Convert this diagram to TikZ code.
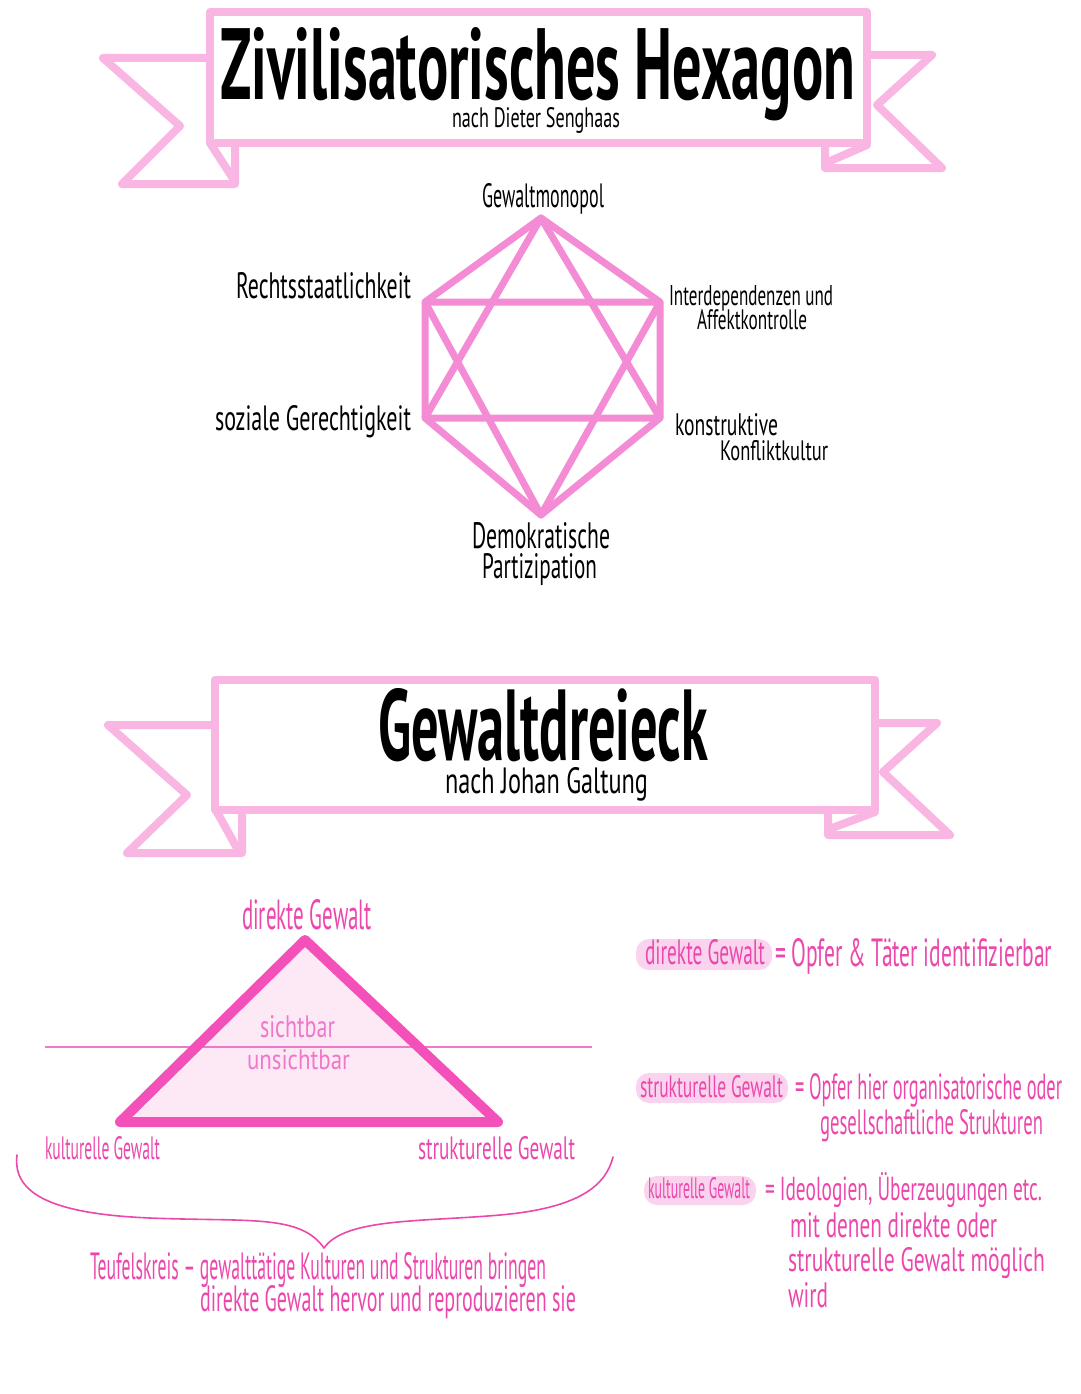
\documentclass[tikz,border=0pt]{standalone}
\usepackage{fontspec}
\usepackage{graphicx}
\setmainfont{PT Sans}
\definecolor{ribbon}{RGB}{249,182,226}
\definecolor{hexpink}{RGB}{243,140,212}
\definecolor{tripink}{RGB}{244,80,185}
\definecolor{trifill}{RGB}{253,232,246}
\definecolor{penpink}{RGB}{236,72,172}
\definecolor{softpink}{RGB}{240,120,200}
\definecolor{hilite}{RGB}{250,212,238}
\newcommand\ft[3]{\resizebox{#1pt}{#2pt}{#3}}
\newcommand\nodepth[1]{\raisebox{0pt}[\height][0pt]{#1}}
\tikzset{
  txt/.style={inner sep=0pt, outer sep=0pt, anchor=base west},
  ribbonline/.style={draw=ribbon, line width=8pt, line join=round, line cap=round},
  hexline/.style={draw=hexpink, line width=7pt, line join=round, line cap=round},
  pill/.style={fill=hilite, rounded corners=13pt},
  ink/.style={text=black},
  pen/.style={text=penpink},
}
\begin{document}
\begin{tikzpicture}[x=1pt,y=-1pt]
\useasboundingbox[fill=white] (0,0) rectangle (1080,1394);

% ---------- Banner 1 ----------
\coordinate (b1tl) at (210,12);
\coordinate (b1br) at (867,143);
\draw[ribbonline] (210,58) -- (103,58) -- (180,126) -- (122,184) -- (235,184) -- (235,143);
\draw[ribbonline] (210,143) -- (234,180);
\draw[ribbonline] (867,55) -- (932,55) -- (877,105) -- (942,168) -- (825,168) -- (825,143);
\draw[ribbonline] (867,145) -- (828,162);
\draw[ribbonline, fill=white] (b1tl) rectangle (b1br);
\node[txt, ink] (t1) at (220,100) {\nodepth{\ft{635}{72}{\bfseries Zivilisatorisches Hexagon}}};
\node[txt, ink] (s1) at (452,128) {\ft{168}{20}{nach Dieter Senghaas}};

% ---------- Hexagon ----------
\coordinate (hT) at (541,218);
\coordinate (hUL) at (425,302);
\coordinate (hUR) at (660,302);
\coordinate (hLL) at (425,418);
\coordinate (hLR) at (660,418);
\coordinate (hB) at (541,515);
\draw[hexline] (hT) -- (hUR) -- (hLR) -- (hB) -- (hLL) -- (hUL) -- cycle;
\draw[hexline] (hT) -- (hLL) -- (hLR) -- cycle;
\draw[hexline] (hB) -- (hUL) -- (hUR) -- cycle;

\node[txt, ink] (gm) at (482,207) {\ft{122}{24}{Gewaltmonopol}};
\node[txt, ink] (rs) at (236,298) {\ft{175}{26}{Rechtsstaatlichkeit}};
\node[txt, ink] (id1) at (669,305) {\nodepth{\ft{164}{20}{Interdependenzen und}}};
\node[txt, ink] (id2) at (697,329) {\ft{110}{20}{Affektkontrolle}};
\node[txt, ink] (sg) at (215,430) {\ft{196}{25}{soziale Gerechtigkeit}};
\node[txt, ink] (kk1) at (675,435) {\ft{103}{22}{konstruktive}};
\node[txt, ink] (kk2) at (720,460) {\ft{108}{20}{Konfliktkultur}};
\node[txt, ink] (dp1) at (472,548) {\ft{138}{26}{Demokratische}};
\node[txt, ink] (dp2) at (482,578) {\ft{115}{25}{Partizipation}};

% ---------- Banner 2 ----------
\coordinate (b2tl) at (215,680);
\coordinate (b2br) at (875,810);
\draw[ribbonline] (215,725) -- (108,725) -- (187,795) -- (127,853) -- (242,853) -- (242,810);
\draw[ribbonline] (217,812) -- (238,850);
\draw[ribbonline] (875,723) -- (937,723) -- (883,772) -- (950,835) -- (828,835) -- (828,810);
\draw[ribbonline] (875,812) -- (832,828);
\draw[ribbonline, fill=white] (b2tl) rectangle (b2br);
\node[txt, ink] (t2) at (378,760) {\nodepth{\ft{330}{72}{\bfseries Gewaltdreieck}}};
\node[txt, ink] (s2) at (445,793) {\ft{203}{26}{nach Johan Galtung}};

% ---------- Triangle ----------
\coordinate (tA) at (305,940);
\coordinate (tL) at (120,1122);
\coordinate (tR) at (498,1122);
\fill[trifill] (tA) -- (tL) -- (tR) -- cycle;
\coordinate (hl1) at (45,1047);
\coordinate (hl2) at (592,1047);
\draw[softpink, line width=1.5pt] (hl1) -- (hl2);
\draw[tripink, line width=10pt, line join=round] (tA) -- (tL) -- (tR) -- cycle;
\node[txt, text=softpink] (sb) at (260,1037) {\ft{75}{22}{sichtbar}};
\node[txt, text=softpink] (usb) at (247,1069) {\ft{103}{20}{unsichtbar}};

\node[txt, pen] (dg) at (242,929) {\ft{130}{30}{direkte Gewalt}};
\node[txt, pen] (kg) at (45,1159) {\ft{115}{23}{kulturelle Gewalt}};
\node[txt, pen] (sgw) at (418,1159) {\ft{157}{23}{strukturelle Gewalt}};

% brace
\coordinate (brL) at (17,1155);
\coordinate (brT) at (324,1248);
\coordinate (brR) at (613,1157);
\draw[penpink, line width=1.6pt, line cap=round, line join=round]
  (brL) .. controls (12,1195) and (55,1214) .. (150,1218)
  .. controls (250,1222) and (300,1214) .. (brT)
  .. controls (345,1218) and (420,1222) .. (500,1215)
  .. controls (580,1208) and (606,1185) .. (brR);

\node[txt, pen] (tk1) at (90,1279) {\ft{456}{27}{Teufelskreis -- gewalttätige Kulturen und Strukturen bringen}};
\node[txt, pen] (tk2) at (200,1311) {\ft{376}{26}{direkte Gewalt hervor und reproduzieren sie}};

% ---------- Definitions ----------
\fill[pill] (636,939) rectangle (772,970);
\node[txt, pen] (d1a) at (645,964) {\ft{120}{25}{direkte Gewalt}};
\node[txt, pen] (d1b) at (775,966) {\ft{277}{28}{= Opfer \& Täter identifizierbar}};

\fill[pill] (636,1073) rectangle (788,1103);
\node[txt, pen] (d2a) at (640,1097) {\ft{143}{22}{strukturelle Gewalt}};
\node[txt, pen] (d2b) at (795,1099) {\ft{267}{26}{= Opfer hier organisatorische oder}};
\node[txt, pen] (d2c) at (820,1134) {\ft{223}{25}{gesellschaftliche Strukturen}};

\fill[pill] (644,1176) rectangle (756,1205);
\node[txt, pen] (d3a) at (648,1198) {\ft{102}{21}{kulturelle Gewalt}};
\node[txt, pen] (d3b) at (765,1200) {\ft{277}{28}{= Ideologien, Überzeugungen etc.}};
\node[txt, pen] (d3c) at (790,1237) {\ft{207}{25}{mit denen direkte oder}};
\node[txt, pen] (d3d) at (788,1271) {\ft{257}{24}{strukturelle Gewalt möglich}};
\node[txt, pen] (d3e) at (788,1307) {\ft{40}{25}{wird}};
\end{tikzpicture}
\end{document}
